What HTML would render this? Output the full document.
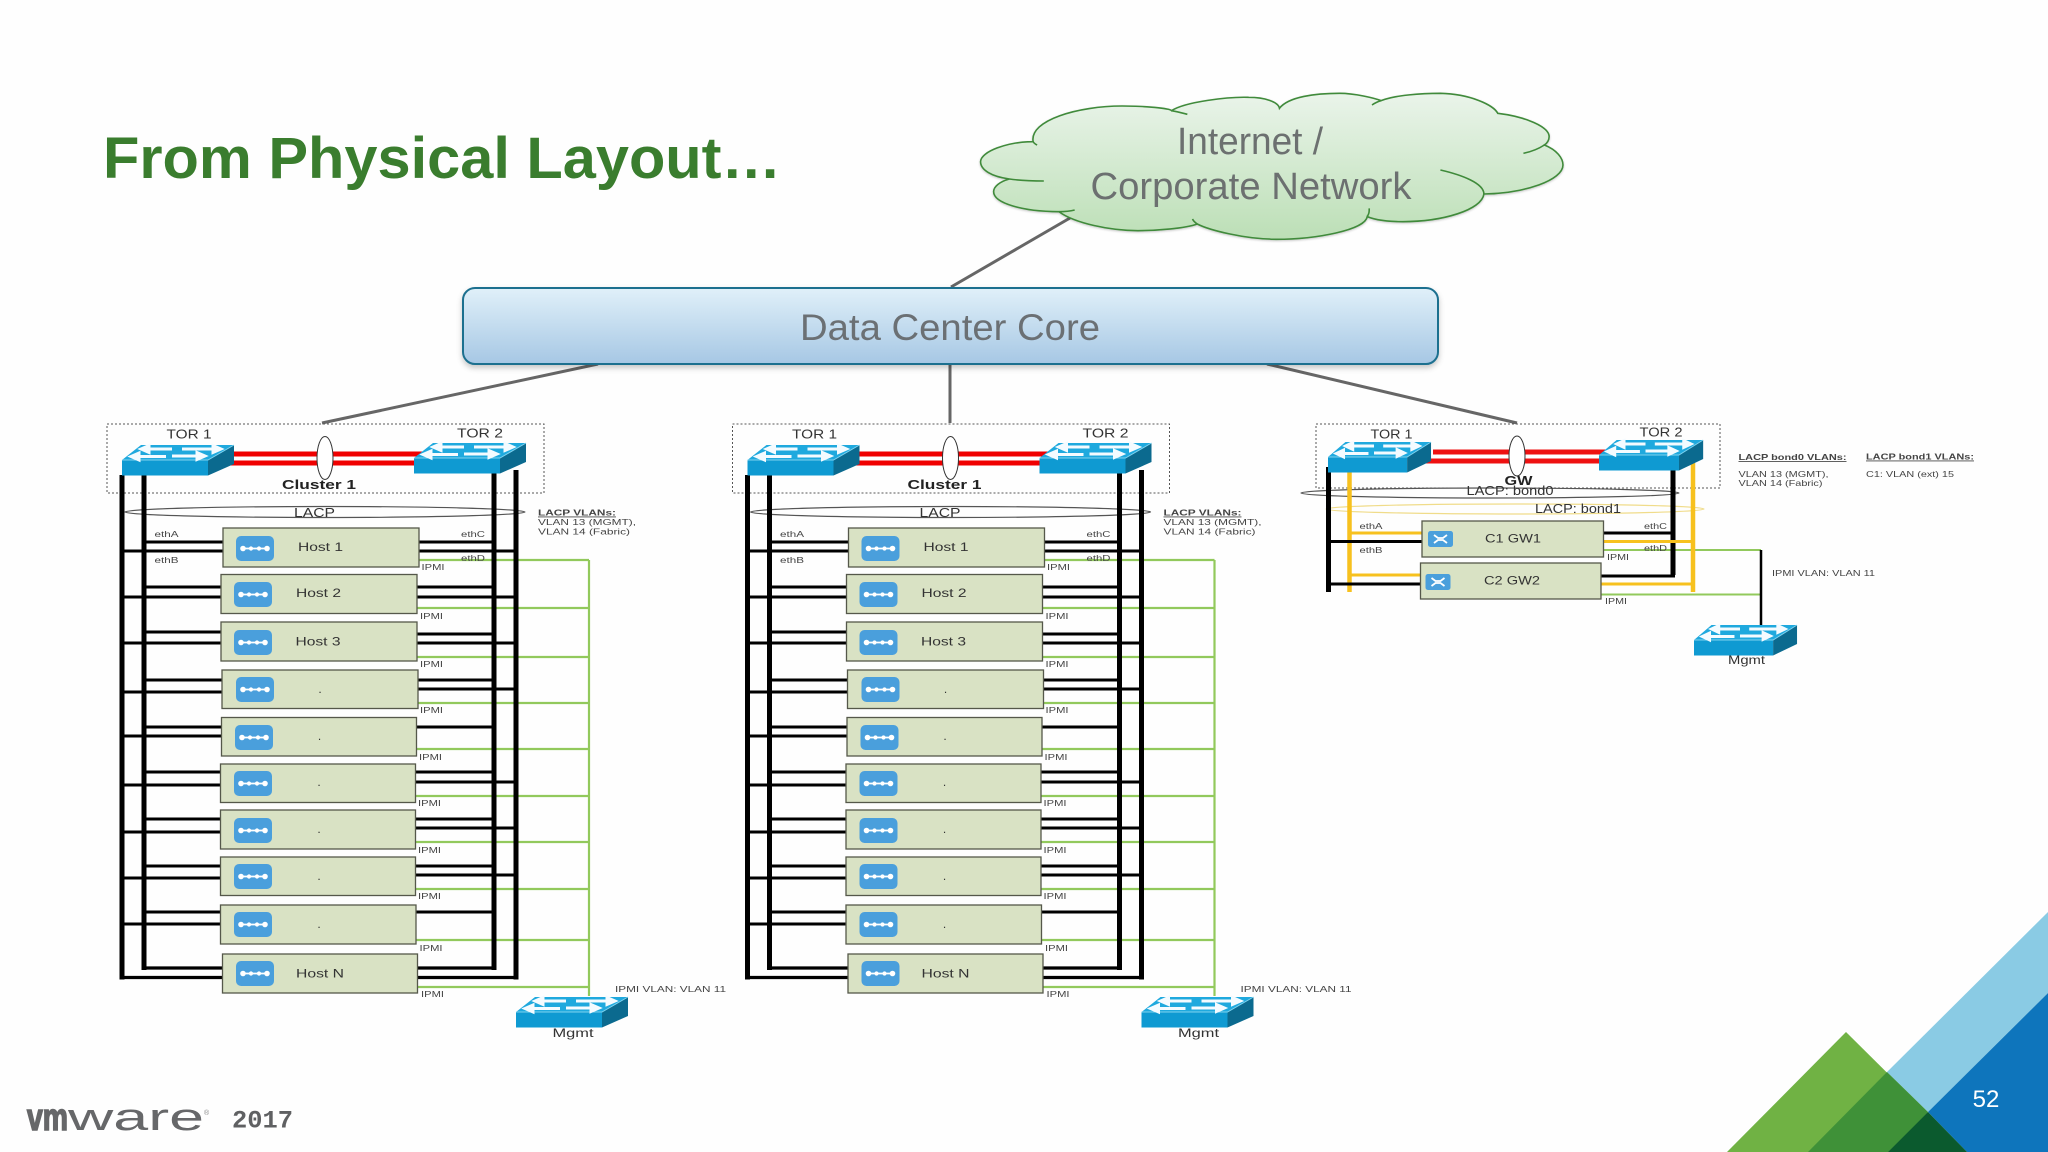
<!DOCTYPE html>
<html><head><meta charset="utf-8"><title>From Physical Layout</title>
<style>
html,body{margin:0;padding:0;background:#fff;width:2048px;height:1152px;overflow:hidden}
svg{display:block}
text{font-family:"Liberation Sans",Arial,sans-serif}
.l{font-size:8.5px;fill:#444}
.m{font-size:8.5px;fill:#444}
.h{font-size:12px;fill:#333;text-anchor:middle}
.t{font-size:12.5px;fill:#333;text-anchor:middle}
.b{font-size:12.5px;font-weight:bold;fill:#222;text-anchor:middle}
</style></head><body>
<svg xmlns="http://www.w3.org/2000/svg" width="2048" height="1152" viewBox="0 0 2048 1152">
<defs>
<linearGradient id="cg" x1="0" y1="0" x2="0" y2="1"><stop offset="0" stop-color="#eaf4ea"/><stop offset="1" stop-color="#bcdfb6"/></linearGradient>
<linearGradient id="bg" x1="0" y1="0" x2="0" y2="1"><stop offset="0" stop-color="#e0f0f9"/><stop offset="1" stop-color="#a6c7e4"/></linearGradient>
<filter id="sh" x="-5%" y="-10%" width="110%" height="125%"><feDropShadow dx="0" dy="3" stdDeviation="3" flood-color="#000" flood-opacity=".22"/></filter>
<g id="sw">
<polygon points="0,0 19,-15 112,-15 86,0" fill="#1fa9de"/>
<rect x="0" y="0" width="86" height="15.5" fill="#0f9ad2"/>
<polygon points="86,0 112,-15 112,4 86,15.5" fill="#0b6a8f"/>
<path d="M0,0H86L112,-15" fill="none" stroke="#7fd3ef" stroke-width="1"/>
<g stroke="#f4fbff" stroke-width="3" fill="#f4fbff">
<path d="M16,-3.5H44" /><polygon points="9,-3.5 17,-7 17,0"/>
<path d="M26,-11H50" /><polygon points="19,-11 27,-14.5 27,-7.5"/>
<path d="M50,-4H76" /><polygon points="83,-4 75,-7.5 75,-.5"/>
<path d="M60,-11H92" /><polygon points="99,-11 91,-14.5 91,-7.5"/>
</g>
</g>
<g id="ic">
<rect width="38" height="25" rx="5" fill="#4a9fdc"/>
<path d="M6,12.5H32" stroke="#fff" stroke-width="1.8"/>
<circle cx="7" cy="12.5" r="2.8" fill="#fff"/><circle cx="15" cy="12.5" r="2.1" fill="#fff"/><circle cx="23" cy="12.5" r="2.1" fill="#fff"/><circle cx="31" cy="12.5" r="2.8" fill="#fff"/>
</g>
<g id="ix">
<rect width="25" height="16" rx="2.5" fill="#4a9fdc"/>
<path d="M6,4L10,7H15L19,4M6,12L10,9H15L19,12" stroke="#fff" stroke-width="1.8" fill="none"/>
</g>
<g id="col">
<rect x="107" y="424" width="437" height="69" fill="none" stroke="#555" stroke-width="1" stroke-dasharray="2 2"/>
<g stroke="#f00000" stroke-width="5" fill="none"><path d="M234,454H423"/><path d="M225,463H414"/></g>
<ellipse cx="325" cy="458" rx="8" ry="21.5" fill="#fff" stroke="#333" stroke-width="1"/>
<ellipse cx="325" cy="512" rx="200" ry="5.5" fill="none" stroke="#555" stroke-width="1.2"/>
<g stroke="#92c95c" stroke-width="2.2" fill="none">
<path d="M589,560V996"/>
<path d="M417,560H589M417,608H589M417,657H589M417,703H589M416,749H589M415,796H589M415,842H589M415,889H589M416,940H589M417,987H589"/>
</g>
<g stroke="#000" stroke-width="5" fill="none">
<path d="M122,475V979.5"/><path d="M144,475V970"/>
<path d="M494,473V970"/><path d="M516,470V979.5"/>
</g>
<g stroke="#000" stroke-width="3.2" fill="none">
<path d="M122,977.5H223M144,968H223M494,968H417M516,977.5H417"/>
</g>
<g stroke="#000" stroke-width="3" fill="none">
<path d="M144,542H223M122,551H223M419,542H494M419,551H515"/>
<path d="M144,587H221M122,597H221M417,587H494M417,597H515"/>
<path d="M144,632H221M122,643H221M417,634H494M417,643H515"/>
<path d="M144,680H222M122,692H222M418,680H494M418,689H515"/>
<path d="M144,727H222M122,736H222M416,727H494"/>
<path d="M144,772H220M122,785H220M415,772H494M415,782H515"/>
<path d="M144,819H220M122,832H220M415,819H494M415,828H515"/>
<path d="M144,866H220M122,878H220M415,866H494M415,875H515"/>
<path d="M144,912H221M122,924H221M416,912H494"/>
</g>
<g fill="#d9e2c4" stroke="#55584a" stroke-width="1.3">
<rect x="223" y="528" width="196" height="39"/>
<rect x="221" y="574.5" width="196" height="39"/>
<rect x="221" y="622" width="196" height="39"/>
<rect x="222" y="670" width="196" height="38.5"/>
<rect x="221.5" y="717.5" width="195" height="38.5"/>
<rect x="220.5" y="764" width="195" height="38.5"/>
<rect x="220.5" y="810" width="195" height="39"/>
<rect x="220.5" y="857" width="195" height="38.5"/>
<rect x="220.5" y="905" width="195.5" height="39"/>
<rect x="222.5" y="954" width="195" height="39"/>
</g>
<use href="#ic" x="236" y="536"/><use href="#ic" x="234" y="582"/><use href="#ic" x="234" y="630"/><use href="#ic" x="236" y="677"/><use href="#ic" x="235" y="725"/><use href="#ic" x="234" y="771"/><use href="#ic" x="234" y="818"/><use href="#ic" x="234" y="864"/><use href="#ic" x="234" y="912"/><use href="#ic" x="236" y="961"/>
<use href="#sw" x="122" y="460"/>
<use href="#sw" x="414" y="458"/>
<use href="#sw" x="516" y="1012"/>
</g>
</defs>

<rect width="2048" height="1152" fill="#fefefe"/>

<text x="103" y="178" font-size="58.5" font-weight="bold" fill="#3a7d2e" textLength="678" lengthAdjust="spacingAndGlyphs">From Physical Layout…</text>

<g stroke="#666" stroke-width="3" fill="none">
<path d="M1070,218L951,287"/>
<path d="M598,364L322,423"/>
<path d="M950,364V423"/>
<path d="M1267,364L1517,423"/>
</g>

<g transform="translate(960,80) scale(.3954,.3333)">
<path filter="url(#sh)" vector-effect="non-scaling-stroke" fill="url(#cg)" stroke="#3f8a3a" stroke-width="1.6" d="M185,185C175,120 300,78 410,78C470,78 530,85 535,92C570,65 680,50 730,52C770,52 805,65 808,85C830,50 900,40 960,40C1000,40 1050,55 1065,62C1100,45 1170,40 1215,40C1290,42 1350,75 1360,100C1430,110 1490,140 1490,170C1490,180 1485,190 1478,195C1510,210 1525,235 1525,255C1525,300 1430,340 1325,342C1320,390 1220,425 1120,425C1085,425 1050,420 1030,410C1025,450 900,478 800,478C720,478 630,450 600,432C570,445 500,452 450,452C380,452 290,430 250,395C160,395 85,370 85,335C85,320 100,305 125,297C80,290 52,270 52,245C52,215 120,185 185,185Z"/>
<g fill="none" stroke="#3f8a3a" stroke-width="1.6">
<path vector-effect="non-scaling-stroke" d="M535,92C550,95 565,100 575,103"/>
<path vector-effect="non-scaling-stroke" d="M1065,62C1055,65 1048,70 1042,75"/>
<path vector-effect="non-scaling-stroke" d="M1478,195C1465,205 1445,215 1425,220"/>
<path vector-effect="non-scaling-stroke" d="M1325,342C1325,310 1270,285 1215,270"/>
<path vector-effect="non-scaling-stroke" d="M1030,410C1035,400 1035,395 1035,385"/>
<path vector-effect="non-scaling-stroke" d="M600,432C595,428 590,422 588,417"/>
<path vector-effect="non-scaling-stroke" d="M250,395C265,395 280,393 290,390"/>
<path vector-effect="non-scaling-stroke" d="M125,297C155,302 185,303 212,303"/>
<path vector-effect="non-scaling-stroke" d="M185,185C187,190 190,192 195,195"/>
</g>
</g>
<text x="1250" y="154" font-size="38" fill="#6c7070" text-anchor="middle" textLength="146" lengthAdjust="spacingAndGlyphs">Internet /</text>
<text x="1251" y="199" font-size="38" fill="#6c7070" text-anchor="middle" textLength="321" lengthAdjust="spacingAndGlyphs">Corporate Network</text>

<rect x="463" y="288" width="975" height="76" rx="12" fill="url(#bg)" stroke="#1f6f8f" stroke-width="2" filter="url(#sh)"/>
<text x="950" y="340" font-size="37" fill="#6b7074" text-anchor="middle" textLength="300" lengthAdjust="spacingAndGlyphs">Data Center Core</text>

<!-- Column 1 -->
<use href="#col"/>
<g>
<text class="t" x="189" y="438.5" textLength="45" lengthAdjust="spacingAndGlyphs">TOR 1</text><text class="t" x="480" y="437.5" textLength="46" lengthAdjust="spacingAndGlyphs">TOR 2</text>
<text class="b" x="319" y="489" textLength="74" lengthAdjust="spacingAndGlyphs">Cluster 1</text>
<text class="t" x="314.5" y="517" textLength="41" lengthAdjust="spacingAndGlyphs">LACP</text>
<text class="m" x="538" y="515.5" font-weight="bold" text-decoration="underline" textLength="78" lengthAdjust="spacingAndGlyphs">LACP VLANs:</text>
<text class="m" x="538" y="525" textLength="98" lengthAdjust="spacingAndGlyphs">VLAN 13 (MGMT),</text>
<text class="m" x="538" y="534.5" textLength="92" lengthAdjust="spacingAndGlyphs">VLAN 14 (Fabric)</text>
<text class="l" x="154.5" y="537" textLength="24" lengthAdjust="spacingAndGlyphs">ethA</text>
<text class="l" x="154.5" y="563" textLength="24" lengthAdjust="spacingAndGlyphs">ethB</text>
<text class="l" x="461" y="537" textLength="24" lengthAdjust="spacingAndGlyphs">ethC</text>
<text class="l" x="461" y="561" textLength="24" lengthAdjust="spacingAndGlyphs">ethD</text>
<text class="h" x="320.5" y="551" textLength="45" lengthAdjust="spacingAndGlyphs">Host 1</text>
<text class="h" x="318.5" y="597" textLength="45" lengthAdjust="spacingAndGlyphs">Host 2</text>
<text class="h" x="318" y="645.5" textLength="45" lengthAdjust="spacingAndGlyphs">Host 3</text>
<text class="h" x="320" y="693">.</text><text class="h" x="319.5" y="740">.</text><text class="h" x="319" y="786">.</text><text class="h" x="319" y="833">.</text><text class="h" x="319" y="880">.</text><text class="h" x="319" y="928">.</text>
<text class="h" x="320" y="977.5" textLength="48" lengthAdjust="spacingAndGlyphs">Host N</text>
<text class="l" x="421.5" y="570" textLength="23" lengthAdjust="spacingAndGlyphs">IPMI</text>
<text class="l" x="420" y="619" textLength="23" lengthAdjust="spacingAndGlyphs">IPMI</text>
<text class="l" x="420" y="667" textLength="23" lengthAdjust="spacingAndGlyphs">IPMI</text>
<text class="l" x="420" y="713" textLength="23" lengthAdjust="spacingAndGlyphs">IPMI</text>
<text class="l" x="419" y="760" textLength="23" lengthAdjust="spacingAndGlyphs">IPMI</text>
<text class="l" x="418" y="806" textLength="23" lengthAdjust="spacingAndGlyphs">IPMI</text>
<text class="l" x="418" y="853" textLength="23" lengthAdjust="spacingAndGlyphs">IPMI</text>
<text class="l" x="418" y="899" textLength="23" lengthAdjust="spacingAndGlyphs">IPMI</text>
<text class="l" x="419.5" y="951" textLength="23" lengthAdjust="spacingAndGlyphs">IPMI</text>
<text class="l" x="421" y="997" textLength="23" lengthAdjust="spacingAndGlyphs">IPMI</text>
<text class="l" x="615" y="992" textLength="111" lengthAdjust="spacingAndGlyphs">IPMI VLAN: VLAN 11</text>
<text class="h" x="573" y="1037" textLength="41" lengthAdjust="spacingAndGlyphs">Mgmt</text>
</g>

<!-- Column 2 -->
<g transform="translate(625.5,0)">
<use href="#col"/>
<text class="t" x="189" y="438.5" textLength="45" lengthAdjust="spacingAndGlyphs">TOR 1</text><text class="t" x="480" y="437.5" textLength="46" lengthAdjust="spacingAndGlyphs">TOR 2</text>
<text class="b" x="319" y="489" textLength="74" lengthAdjust="spacingAndGlyphs">Cluster 1</text>
<text class="t" x="314.5" y="517" textLength="41" lengthAdjust="spacingAndGlyphs">LACP</text>
<text class="m" x="538" y="515.5" font-weight="bold" text-decoration="underline" textLength="78" lengthAdjust="spacingAndGlyphs">LACP VLANs:</text>
<text class="m" x="538" y="525" textLength="98" lengthAdjust="spacingAndGlyphs">VLAN 13 (MGMT),</text>
<text class="m" x="538" y="534.5" textLength="92" lengthAdjust="spacingAndGlyphs">VLAN 14 (Fabric)</text>
<text class="l" x="154.5" y="537" textLength="24" lengthAdjust="spacingAndGlyphs">ethA</text>
<text class="l" x="154.5" y="563" textLength="24" lengthAdjust="spacingAndGlyphs">ethB</text>
<text class="l" x="461" y="537" textLength="24" lengthAdjust="spacingAndGlyphs">ethC</text>
<text class="l" x="461" y="561" textLength="24" lengthAdjust="spacingAndGlyphs">ethD</text>
<text class="h" x="320.5" y="551" textLength="45" lengthAdjust="spacingAndGlyphs">Host 1</text>
<text class="h" x="318.5" y="597" textLength="45" lengthAdjust="spacingAndGlyphs">Host 2</text>
<text class="h" x="318" y="645.5" textLength="45" lengthAdjust="spacingAndGlyphs">Host 3</text>
<text class="h" x="320" y="693">.</text><text class="h" x="319.5" y="740">.</text><text class="h" x="319" y="786">.</text><text class="h" x="319" y="833">.</text><text class="h" x="319" y="880">.</text><text class="h" x="319" y="928">.</text>
<text class="h" x="320" y="977.5" textLength="48" lengthAdjust="spacingAndGlyphs">Host N</text>
<text class="l" x="421.5" y="570" textLength="23" lengthAdjust="spacingAndGlyphs">IPMI</text>
<text class="l" x="420" y="619" textLength="23" lengthAdjust="spacingAndGlyphs">IPMI</text>
<text class="l" x="420" y="667" textLength="23" lengthAdjust="spacingAndGlyphs">IPMI</text>
<text class="l" x="420" y="713" textLength="23" lengthAdjust="spacingAndGlyphs">IPMI</text>
<text class="l" x="419" y="760" textLength="23" lengthAdjust="spacingAndGlyphs">IPMI</text>
<text class="l" x="418" y="806" textLength="23" lengthAdjust="spacingAndGlyphs">IPMI</text>
<text class="l" x="418" y="853" textLength="23" lengthAdjust="spacingAndGlyphs">IPMI</text>
<text class="l" x="418" y="899" textLength="23" lengthAdjust="spacingAndGlyphs">IPMI</text>
<text class="l" x="419.5" y="951" textLength="23" lengthAdjust="spacingAndGlyphs">IPMI</text>
<text class="l" x="421" y="997" textLength="23" lengthAdjust="spacingAndGlyphs">IPMI</text>
<text class="l" x="615" y="992" textLength="111" lengthAdjust="spacingAndGlyphs">IPMI VLAN: VLAN 11</text>
<text class="h" x="573" y="1037" textLength="41" lengthAdjust="spacingAndGlyphs">Mgmt</text>
</g>

<!-- Column 3 -->
<rect x="1316" y="424" width="404" height="64" fill="none" stroke="#555" stroke-width="1" stroke-dasharray="2 2"/>
<g stroke="#ee1111" stroke-width="5" fill="none"><path d="M1433,452H1608"/><path d="M1423,461H1599"/></g>
<ellipse cx="1517" cy="456" rx="8" ry="20" fill="#fff" stroke="#333" stroke-width="1"/>
<ellipse cx="1490" cy="493" rx="189" ry="5" fill="none" stroke="#555" stroke-width="1.2"/>
<ellipse cx="1515" cy="509" rx="189" ry="5" fill="none" stroke="#f0dc8a" stroke-width="1.2"/>
<g stroke="#92c95c" stroke-width="2" fill="none"><path d="M1603,550H1761M1601,594.5H1761"/></g>
<path d="M1761,550V626" stroke="#000" stroke-width="2.5" fill="none"/>
<g stroke="#000" stroke-width="5" fill="none"><path d="M1328.5,467V592"/><path d="M1673,468V575"/></g>
<g stroke="#f7c11e" stroke-width="4.5" fill="none"><path d="M1349.5,472V592"/><path d="M1693,463V592"/></g>
<g stroke="#f7c11e" stroke-width="3" fill="none"><path d="M1349.5,533H1422M1349.5,575H1420M1603,541.5H1693M1601,584H1693"/></g>
<g stroke="#000" stroke-width="3" fill="none"><path d="M1328.5,541.5H1422M1328.5,584H1420M1603,533H1673M1601,576H1675"/></g>
<g fill="#d9e2c4" stroke="#55584a" stroke-width="1.3">
<rect x="1422" y="521" width="181.5" height="36"/>
<rect x="1420.5" y="563" width="180.5" height="36"/>
</g>
<use href="#ix" x="1428" y="531"/><use href="#ix" x="1425.5" y="574"/>
<use href="#sw" transform="translate(1328,457) scale(.92,1)"/>
<use href="#sw" transform="translate(1599,455) scale(.93,1)"/>
<use href="#sw" transform="translate(1694,640) scale(.92,1)"/>
<text class="t" x="1391.5" y="438.5" textLength="42" lengthAdjust="spacingAndGlyphs">TOR 1</text><text class="t" x="1661" y="436.5" textLength="43" lengthAdjust="spacingAndGlyphs">TOR 2</text>
<text class="b" x="1518.5" y="485" textLength="28" lengthAdjust="spacingAndGlyphs">GW</text>
<text class="t" x="1510" y="495" textLength="87" lengthAdjust="spacingAndGlyphs">LACP: bond0</text>
<text class="t" x="1578" y="513" textLength="86" lengthAdjust="spacingAndGlyphs">LACP: bond1</text>
<text class="h" x="1513" y="542.5" textLength="56" lengthAdjust="spacingAndGlyphs">C1 GW1</text>
<text class="h" x="1512" y="584.5" textLength="56" lengthAdjust="spacingAndGlyphs">C2 GW2</text>
<text class="l" x="1359.5" y="529" textLength="23" lengthAdjust="spacingAndGlyphs">ethA</text>
<text class="l" x="1359.5" y="553" textLength="23" lengthAdjust="spacingAndGlyphs">ethB</text>
<text class="l" x="1644" y="529" textLength="23" lengthAdjust="spacingAndGlyphs">ethC</text>
<text class="l" x="1644" y="551" textLength="23" lengthAdjust="spacingAndGlyphs">ethD</text>
<text class="l" x="1607" y="560" textLength="22" lengthAdjust="spacingAndGlyphs">IPMI</text>
<text class="l" x="1605" y="604" textLength="22" lengthAdjust="spacingAndGlyphs">IPMI</text>
<text class="m" x="1738.5" y="460" font-weight="bold" text-decoration="underline" textLength="108" lengthAdjust="spacingAndGlyphs">LACP bond0 VLANs:</text>
<text class="m" x="1866" y="459.5" font-weight="bold" text-decoration="underline" textLength="108" lengthAdjust="spacingAndGlyphs">LACP bond1 VLANs:</text>
<text class="l" x="1738.5" y="477" textLength="90" lengthAdjust="spacingAndGlyphs">VLAN 13 (MGMT),</text>
<text class="l" x="1738.5" y="486" textLength="84" lengthAdjust="spacingAndGlyphs">VLAN 14 (Fabric)</text>
<text class="l" x="1866" y="477" textLength="88" lengthAdjust="spacingAndGlyphs">C1: VLAN (ext) 15</text>
<text class="l" x="1772" y="576" textLength="103" lengthAdjust="spacingAndGlyphs">IPMI VLAN: VLAN 11</text>
<text class="h" x="1746.5" y="664" textLength="37" lengthAdjust="spacingAndGlyphs">Mgmt</text>

<!-- Footer -->
<text x="27" y="1130" font-size="38" font-weight="bold" fill="#666769" stroke="#666769" stroke-width="1.6" textLength="41" lengthAdjust="spacingAndGlyphs">vm</text>
<text x="68" y="1130" font-size="38" fill="#666769" textLength="136" lengthAdjust="spacingAndGlyphs">ware</text>
<text x="204" y="1115" font-size="7" fill="#888">®</text>
<text x="232" y="1127.5" font-size="25" font-weight="bold" fill="#5f6062" textLength="61" lengthAdjust="spacingAndGlyphs" style="font-family:'Liberation Mono',monospace">2017</text>

<!-- Corner triangles -->
<polygon points="2048,912 1887,1072 1928,1112 2048,993" fill="#8acbe4"/>
<polygon points="2048,993 1928,1112 1967,1152 2048,1152" fill="#0e75bc"/>
<polygon points="1846,1032 1727,1152 1967,1152" fill="#70b244"/>
<polygon points="1887,1072 1928,1112 1888,1152 1808,1152" fill="#3f9138"/>
<polygon points="1928,1112 1967,1152 1888,1152" fill="#0b5a2e"/>
<text x="1986" y="1107" font-size="24" fill="#fff" text-anchor="middle">52</text>
</svg>
</body></html>
